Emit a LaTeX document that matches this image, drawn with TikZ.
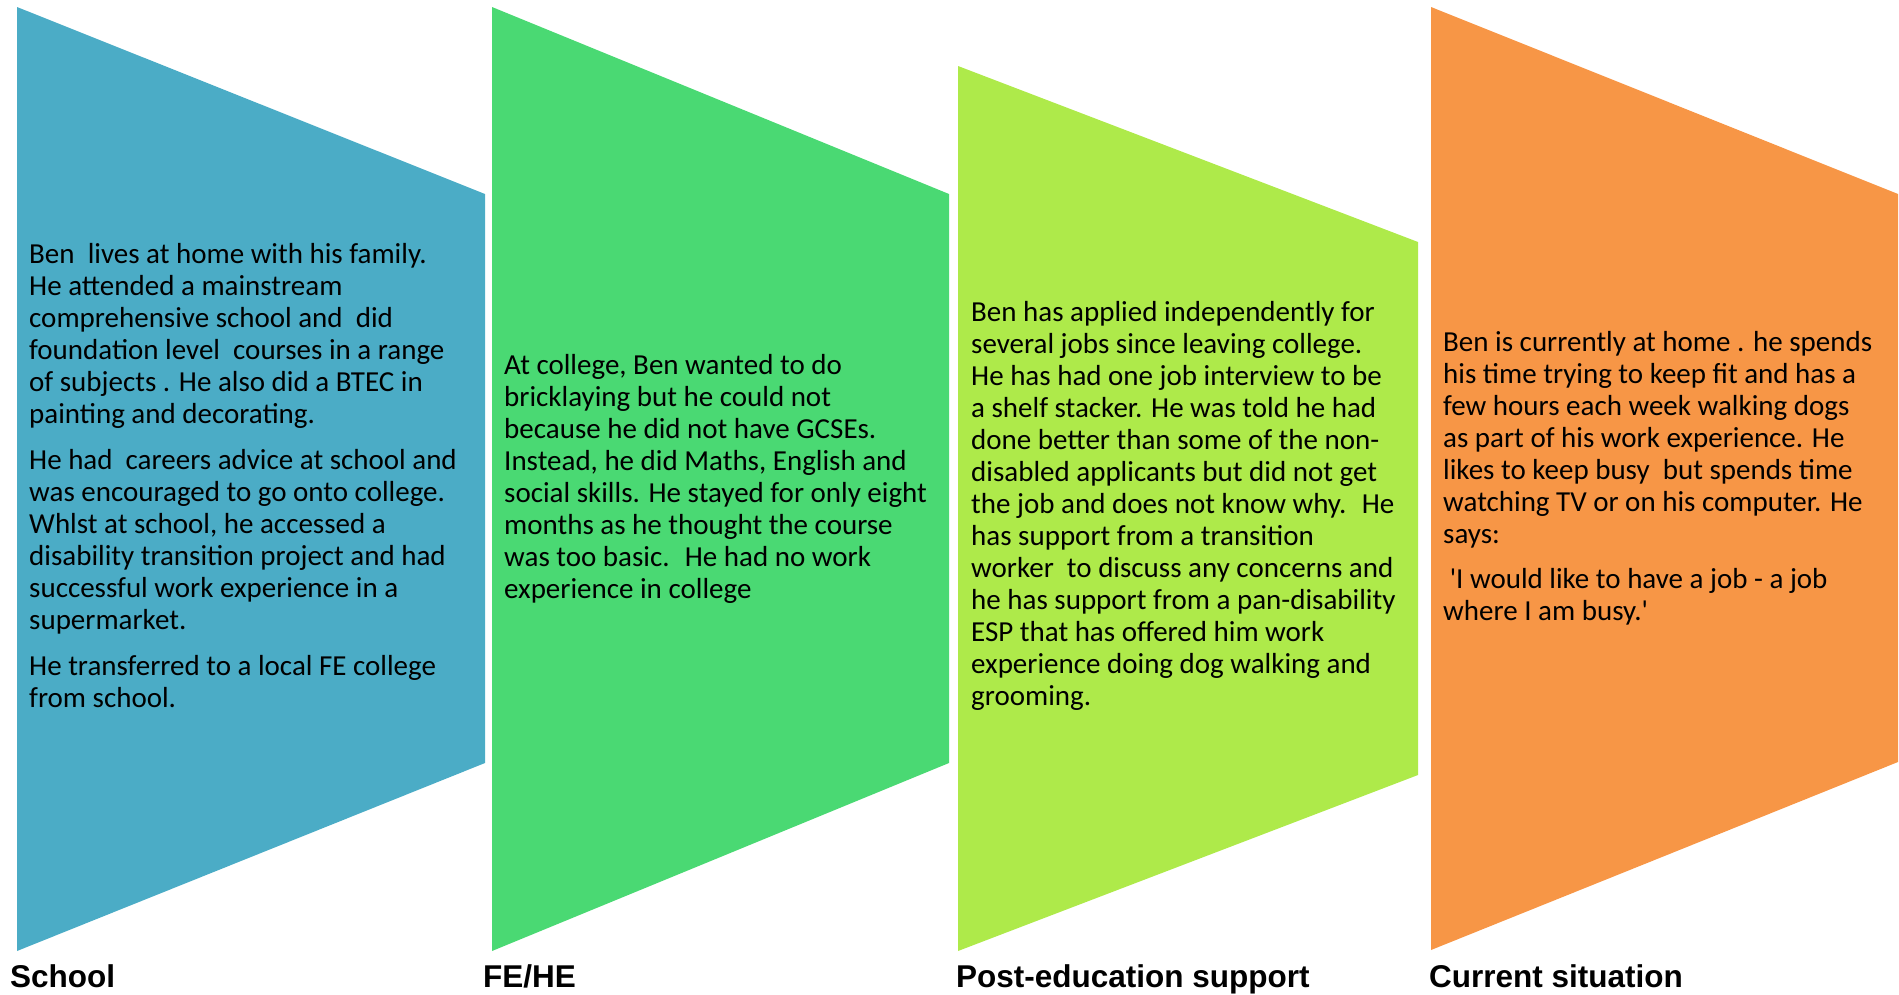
\documentclass[tikz,border=0pt]{standalone}
\usepackage{fontspec}
\usepackage{tikz}
\setmainfont{Carlito}[Ligatures=TeXOff]
\newfontfamily\headfont{Liberation Sans}

\definecolor{schoolblue}{HTML}{4BACC6}
\definecolor{fegreen}{HTML}{4AD973}
\definecolor{postlime}{HTML}{AEEA4A}
\definecolor{nowor}{HTML}{F79646}

\tikzset{
  story/.style={anchor=base west, inner sep=0pt, align=left,
    font=\fontsize{29}{32}\selectfont},
  stagename/.style={anchor=base west, inner sep=0pt,
    font=\headfont\bfseries\fontsize{31.5}{36}\selectfont}
}

\begin{document}
\begin{tikzpicture}[x=1pt,y=-1pt]
	\useasboundingbox (0,0) rectangle (1899,994);
	\fill[schoolblue] (17,7) -- (485,194) -- (485,763) -- (17,951) -- cycle;
	\fill[fegreen] (492,7) -- (949,194) -- (949,763) -- (492,951) -- cycle;
	\fill[postlime] (958,66) -- (1418,242) -- (1418,775) -- (958,951) -- cycle;
	\fill[nowor] (1431,7) -- (1898,194) -- (1898,762) -- (1431,950) -- cycle;
	% text nodes sit on the baseline of their last line
	\node[story] (school) at (29,707) {Ben~ lives at home with his family.\\
		He attended a mainstream\\
		comprehensive school and~ did\\
		foundation level~ courses in a range\\
		of subjects . He also did a BTEC in\\
		painting and decorating.\\[14pt]
		He had~ careers advice at school and\\
		was encouraged to go onto college.\\
		Whlst at school, he accessed a\\
		disability transition project and had\\
		successful work experience in a\\
		supermarket.\\[14pt]
		He transferred to a local FE college\\
		from school.};
	\node[story] (fehe) at (504,598) {At college, Ben wanted to do\\
		bricklaying but he could not\\
		because he did not have GCSEs.\\
		Instead, he did Maths, English and\\
		social skills. He stayed for only eight\\
		months as he thought the course\\
		was too basic.~ He had no work\\
		experience in college};
	\node[story] (post) at (971,705) {Ben has applied independently for\\
		several jobs since leaving college.\\
		He has had one job interview to be\\
		a shelf stacker. He was told he had\\
		done better than some of the non-\\
		disabled applicants but did not get\\
		the job and does not know why.~ He\\
		has support from a transition\\
		worker~ to discuss any concerns and\\
		he has support from a pan-disability\\
		ESP that has offered him work\\
		experience doing dog walking and\\
		grooming.};
	\node[story] (now) at (1443,620) {Ben is currently at home . he spends\\
		his time trying to keep fit and has a\\
		few hours each week walking dogs\\
		as part of his work experience. He\\
		likes to keep busy~ but spends time\\
		watching TV or on his computer. He\\
		says:\\[13pt]
		\ 'I would like to have a job - a job\\
		where I am busy.'};
	\node[stagename] (l1) at (10,987) {School};
	\node[stagename] (l2) at (483,987) {FE/HE};
	\node[stagename] (l3) at (956,987) {Post-education support};
	\node[stagename] (l4) at (1429,987) {Current situation};
\end{tikzpicture}
\end{document}
